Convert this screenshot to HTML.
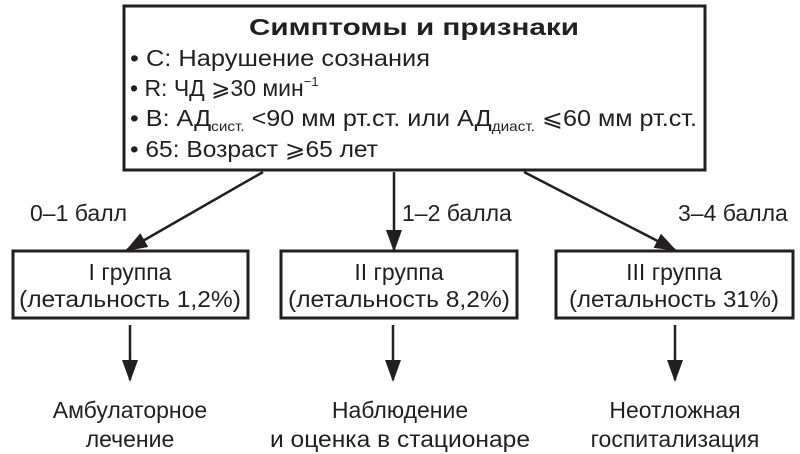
<!DOCTYPE html>
<html><head><meta charset="utf-8"><style>
html,body{margin:0;padding:0;background:#fff;}
svg{display:block;}
text{font-family:"Liberation Sans",sans-serif;fill:#231f20;}
</style></head><body>
<svg width="800" height="454" viewBox="0 0 800 454" xmlns="http://www.w3.org/2000/svg">
<defs>
<marker id="b" markerWidth="22" markerHeight="22" refX="20" refY="8" orient="auto" markerUnits="userSpaceOnUse" viewBox="0 0 22 16"><path d="M0,0 L22,8 L0,16 z" fill="#231f20"/></marker></defs>
<g fill="none" stroke="#231f20" stroke-width="3">
<rect x="124" y="6" width="581" height="164"/>
<rect x="13" y="251" width="235" height="67"/>
<rect x="281" y="251" width="236" height="67"/>
<rect x="556" y="251" width="237" height="67"/>
</g>
<g stroke="#231f20" stroke-width="2.5">
<line x1="263" y1="172" x2="127" y2="250" marker-end="url(#b)"/>
<line x1="394" y1="172" x2="394" y2="250" marker-end="url(#b)"/>
<line x1="524" y1="172" x2="675" y2="250" marker-end="url(#b)"/>
<line x1="130" y1="325" x2="130" y2="380" marker-end="url(#b)"/>
<line x1="393" y1="325" x2="393" y2="380" marker-end="url(#b)"/>
<line x1="675" y1="325" x2="675" y2="380" marker-end="url(#b)"/>
</g>
<text x="414" y="35" font-size="23" font-weight="bold" text-anchor="middle" textLength="330" lengthAdjust="spacingAndGlyphs">Симптомы и признаки</text>
<g font-size="23">
<text x="130" y="66" textLength="300" lengthAdjust="spacingAndGlyphs">• C: Нарушение сознания</text>
<text x="130" y="96">• R: ЧД ⩾30 мин<tspan font-size="13" dy="-10">−1</tspan></text>
<text x="130" y="126" textLength="567" lengthAdjust="spacingAndGlyphs">• B: АД<tspan font-size="14" dy="5">сист.</tspan><tspan dy="-5"> &lt;90 мм рт.ст. или АД</tspan><tspan font-size="14" dy="5">диаст.</tspan><tspan dy="-5"> ⩽60 мм рт.ст.</tspan></text>
<text x="130" y="157" textLength="248" lengthAdjust="spacingAndGlyphs">• 65: Возраст ⩾65 лет</text>
<text x="30" y="221">0–1 балл</text>
<text x="402" y="221">1–2 балла</text>
<text x="678" y="221">3–4 балла</text>
<text x="130" y="280" text-anchor="middle">I  группа</text>
<text x="130" y="307" text-anchor="middle" textLength="222" lengthAdjust="spacingAndGlyphs">(летальность 1,2%)</text>
<text x="399" y="280" text-anchor="middle">II  группа</text>
<text x="399" y="307" text-anchor="middle" textLength="222" lengthAdjust="spacingAndGlyphs">(летальность 8,2%)</text>
<text x="674" y="280" text-anchor="middle">III  группа</text>
<text x="674" y="307" text-anchor="middle" textLength="210" lengthAdjust="spacingAndGlyphs">(летальность 31%)</text>
<text x="130" y="418" text-anchor="middle">Амбулаторное</text>
<text x="130" y="447" text-anchor="middle">лечение</text>
<text x="400" y="418" text-anchor="middle">Наблюдение</text>
<text x="400" y="447" text-anchor="middle" textLength="260" lengthAdjust="spacingAndGlyphs">и оценка в стационаре</text>
<text x="675" y="418" text-anchor="middle">Неотложная</text>
<text x="675" y="447" text-anchor="middle">госпитализация</text>
</g>
</svg>
</body></html>
